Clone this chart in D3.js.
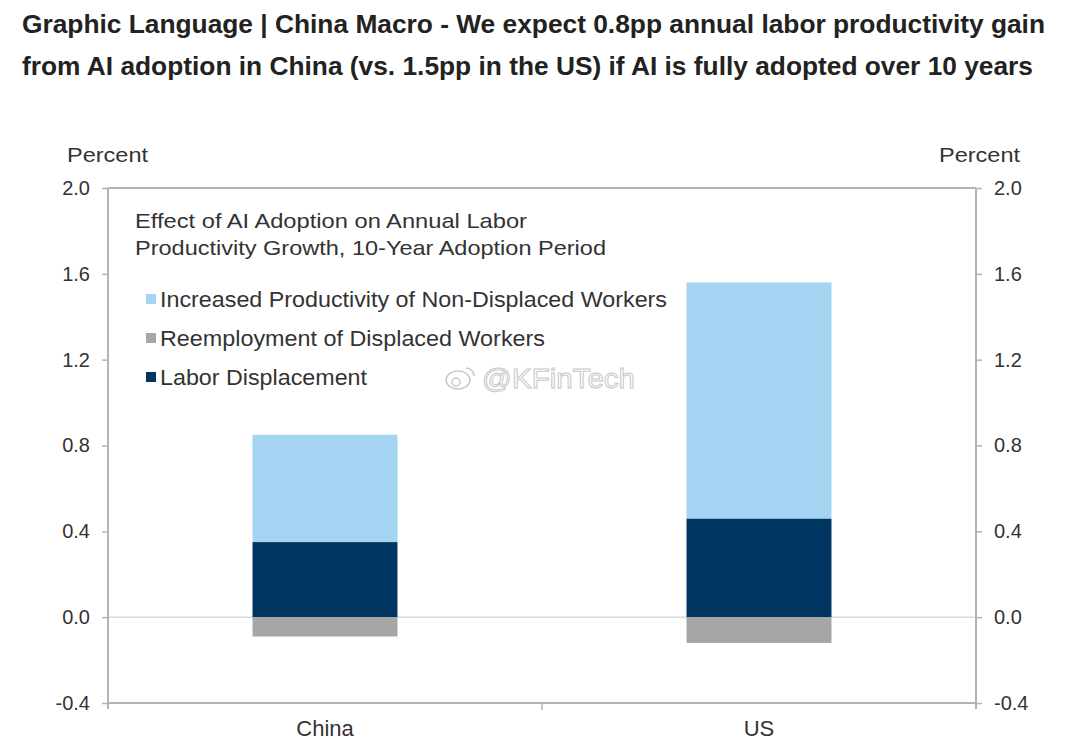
<!DOCTYPE html>
<html>
<head>
<meta charset="utf-8">
<script src="https://cdn.jsdelivr.net/npm/d3@7"></script>
<style>
  html, body { margin: 0; padding: 0; background: #fff; }
  svg { display: block; }
</style>
</head>
<body>
<svg id="chart" width="1080" height="754"></svg>
<script>
// ---- Data ----
const titleLines = [
  "Graphic Language | China Macro - We expect 0.8pp annual labor productivity gain",
  "from AI adoption in China (vs. 1.5pp in the US) if AI is fully adopted over 10 years"
];
const categories = ["China", "US"];
const laborDisplacement = [0.35, 0.46];
const increasedProductivity = [0.50, 1.10];
const reemployment = [-0.09, -0.12];
const yTicks = [-0.4, 0.0, 0.4, 0.8, 1.2, 1.6, 2.0];
const seriesNames = ["Increased Productivity of Non-Displaced Workers", "Reemployment of Displaced Workers", "Labor Displacement"];
const legendTitle = ["Effect of AI Adoption on Annual Labor", "Productivity Growth, 10-Year Adoption Period"];
const axisLabel = "Percent";

// ---- Setup ----
const svg = d3.select("#chart");
const colors = { inc: "#a3d4f2", re: "#a6a6a6", lab: "#013561" };
const textCol = "#333333";
const axisCol = "#b3b3b3";
const font = "'Liberation Sans', Arial, sans-serif";
const fmt = d => d3.format(".1f")(d).replace("\u2212", "-");

const pLeft = 108, pRight = 976, pTop = 188, pBottom = 703;
const y = d3.scaleLinear().domain([-0.4, 2.0]).range([pBottom, pTop]);
const x = d3.scaleBand().domain(categories).range([pLeft, pRight]).paddingInner(0.666).paddingOuter(0.333);

// Title
const tWidths = [1023, 1011];
titleLines.forEach((t, i) => {
  svg.append("text").attr("x", 22).attr("y", 33 + i * 42)
    .attr("font-family", font)
    .attr("font-weight", "bold").attr("font-size", 25)
    .attr("fill", "#222")
    .attr("textLength", tWidths[i]).attr("lengthAdjust", "spacingAndGlyphs")
    .text(t);
});

// Axis titles
svg.append("text").attr("x", 67).attr("y", 162).attr("font-family", font).attr("font-size", 21)
  .attr("fill", textCol).attr("textLength", 81).attr("lengthAdjust", "spacingAndGlyphs").text(axisLabel);
svg.append("text").attr("x", 939).attr("y", 162).attr("font-family", font).attr("font-size", 21)
  .attr("fill", textCol).attr("textLength", 81).attr("lengthAdjust", "spacingAndGlyphs").text(axisLabel);

// Zero gridline
svg.append("line").attr("x1", pLeft).attr("x2", pRight).attr("y1", y(0)).attr("y2", y(0))
  .attr("stroke", "#d9d9d9").attr("stroke-width", 1.5);

// Stacked bars
const rows = categories.map((c, i) => ({
  cat: c, lab: laborDisplacement[i], inc: increasedProductivity[i], re: reemployment[i]
}));
const stack = d3.stack().keys(["lab", "inc", "re"]).offset(d3.stackOffsetDiverging);
const layers = stack(rows);
layers.forEach(layer => {
  svg.append("g").selectAll("rect").data(layer).join("rect")
    .attr("x", d => x(d.data.cat))
    .attr("width", x.bandwidth())
    .attr("y", d => y(Math.max(d[0], d[1])))
    .attr("height", d => Math.abs(y(d[0]) - y(d[1])))
    .attr("fill", colors[layer.key]);
});

// Frame
svg.append("line").attr("x1", pLeft).attr("x2", pRight).attr("y1", pTop).attr("y2", pTop).attr("stroke", axisCol).attr("stroke-width", 2);
svg.append("line").attr("x1", pLeft).attr("x2", pRight).attr("y1", pBottom).attr("y2", pBottom).attr("stroke", axisCol).attr("stroke-width", 2);

// Left axis
const gL = svg.append("g").attr("transform", `translate(${pLeft},0)`)
  .call(d3.axisLeft(y).tickValues(yTicks).tickFormat(fmt).tickSize(6).tickSizeOuter(0).tickPadding(12));
gL.select(".domain").attr("stroke", axisCol).attr("stroke-width", 2).attr("d", `M0,${pTop}V${pBottom + 6}`);
gL.selectAll(".tick line").attr("stroke", axisCol).attr("stroke-width", 1.5);
gL.selectAll(".tick text").attr("font-family", font).attr("font-size", 20).attr("fill", textCol);

// Right axis
const gR = svg.append("g").attr("transform", `translate(${pRight},0)`)
  .call(d3.axisRight(y).tickValues(yTicks).tickFormat(fmt).tickSize(6).tickSizeOuter(0).tickPadding(12));
gR.select(".domain").attr("stroke", axisCol).attr("stroke-width", 2).attr("d", `M0,${pTop}V${pBottom + 6}`);
gR.selectAll(".tick line").attr("stroke", axisCol).attr("stroke-width", 1.5);
gR.selectAll(".tick text").attr("font-family", font).attr("font-size", 20).attr("fill", textCol);

// Bottom axis (category labels) with separator tick
const gB = svg.append("g").attr("transform", `translate(0,${pBottom})`)
  .call(d3.axisBottom(x).tickSize(0).tickPadding(17));
gB.select(".domain").remove();
gB.selectAll(".tick text").attr("font-family", font).attr("font-size", 22).attr("fill", textCol);
const sep = (x(categories[0]) + x.bandwidth() + x(categories[1])) / 2;
svg.append("line").attr("x1", sep).attr("x2", sep).attr("y1", pBottom).attr("y2", pBottom + 7)
  .attr("stroke", axisCol).attr("stroke-width", 1.5);

// Legend title
const ltWidths = [392, 471];
legendTitle.forEach((t, i) => {
  svg.append("text").attr("x", 135).attr("y", 228 + i * 27)
    .attr("font-family", font).attr("font-size", 21).attr("fill", textCol)
    .attr("textLength", ltWidths[i]).attr("lengthAdjust", "spacingAndGlyphs").text(t);
});

// Legend items
const legColors = [colors.inc, colors.re, colors.lab];
const liWidths = [507, 385, 207];
seriesNames.forEach((s, i) => {
  const yy = 299 + i * 39;
  svg.append("rect").attr("x", 146).attr("y", yy - 5).attr("width", 10).attr("height", 10).attr("fill", legColors[i]);
  svg.append("text").attr("x", 160).attr("y", yy + 8)
    .attr("font-family", font).attr("font-size", 22).attr("fill", textCol)
    .attr("textLength", liWidths[i]).attr("lengthAdjust", "spacingAndGlyphs").text(s);
});

// Watermark
const wm = svg.append("g").attr("fill", "none").attr("stroke", "#c8c8c8").attr("stroke-width", 1.5);
wm.append("ellipse").attr("cx", 458).attr("cy", 380).attr("rx", 12).attr("ry", 9);
wm.append("circle").attr("cx", 456).attr("cy", 382).attr("r", 4);
wm.append("path").attr("d", "M466,368 a8,8 0 0 1 8,8");
svg.append("text").attr("x", 482).attr("y", 388)
  .attr("font-family", font).attr("font-size", 28)
  .attr("fill", "#ffffff").attr("stroke", "#c8c8c8").attr("stroke-width", 1)
  .attr("textLength", 153).attr("lengthAdjust", "spacingAndGlyphs")
  .text("@KFinTech");
</script>
</body>
</html>
